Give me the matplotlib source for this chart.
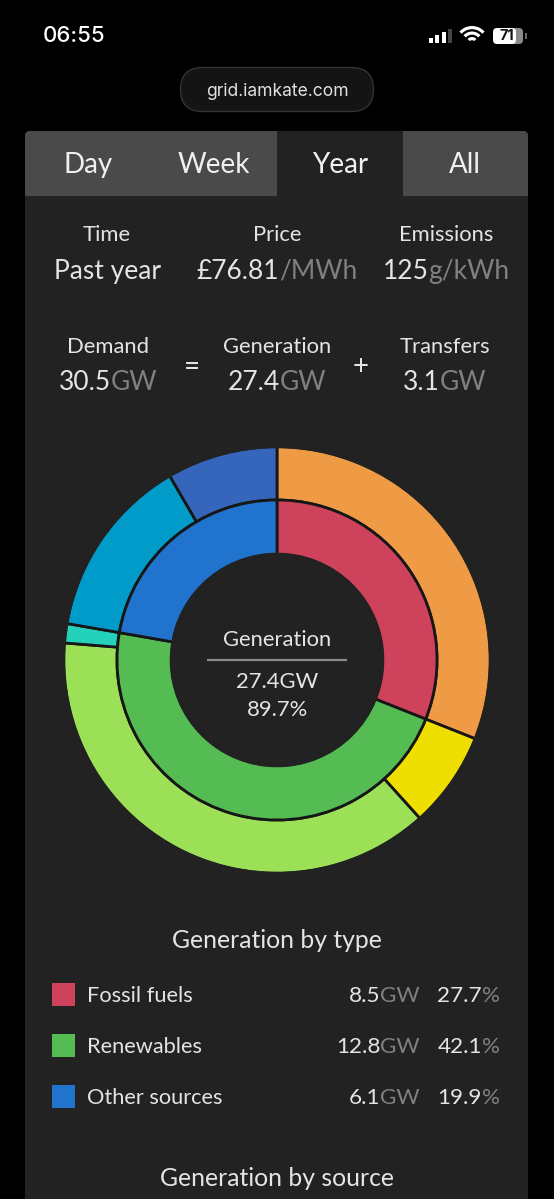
import matplotlib
matplotlib.use('Agg')
import matplotlib.pyplot as plt
from matplotlib.patches import Circle, FancyBboxPatch, Rectangle, Wedge

plt.rcParams['font.family'] = ['Lato', 'DejaVu Sans']

W, H = 554, 1199
BG = '#222222'
TAB = '#4a4a4a'
WHITE = '#e4e4e4'
GREY = '#808080'
EDGE = '#161616'

# inner ring, GW
type_names = ['Fossil fuels', 'Renewables', 'Other sources']
type_gw = [8.5, 12.8, 6.1]
type_pct = [27.7, 42.1, 19.9]
type_colors = ['#ce425b', '#54bc53', '#2074ce']

# outer ring, GW
source_gw = [8.5, 2.0, 10.4, 0.4, 3.8, 2.3]
source_colors = ['#ef9a45', '#efdf00', '#9be057', '#24d2bc', '#009bc9', '#3566bb']

tabs = ['Day', 'Week', 'Year', 'All']
top_labels = ['Time', 'Price', 'Emissions']
top_values = [('Past year', ''), ('£76.81', '/MWh'), ('125', 'g/kWh')]
mid_labels = ['Demand', 'Generation', 'Transfers']
mid_values = [('30.5', 'GW'), ('27.4', 'GW'), ('3.1', 'GW')]
signal_heights = [5, 8, 11, 14]

fig = plt.figure(figsize=(W / 100, H / 100), dpi=100, facecolor='black')
ax = fig.add_axes([0, 0, 1, 1])
ax.set_xlim(0, W)
ax.set_ylim(H, 0)
ax.axis('off')
renderer = fig.canvas.get_renderer()


def two_tone(x, y, first, second, size, align='center'):
    # white number followed by a grey unit, placed as one string
    t1 = ax.text(0, y, first, color=WHITE, fontsize=size, va='center', ha='left')
    t2 = ax.text(0, y, second, color=GREY, fontsize=size, va='center', ha='left')
    w1 = t1.get_window_extent(renderer).width
    w2 = t2.get_window_extent(renderer).width if second else 0
    left = x - (w1 + w2) / 2 if align == 'center' else x - w1 - w2
    t1.set_x(left)
    t2.set_x(left + w1)


# status bar
ax.text(43, 36, '06:55', color='white', fontsize=16, family='Inter', weight='medium',
        va='center', ha='left')
for i, h in enumerate(signal_heights):
    color = 'white' if i < 3 else '#444444'
    ax.add_patch(Rectangle((429 + i * 6.3, 43 - h), 4, h, color=color, lw=0))
for r in [17, 11.5, 6]:
    ax.add_patch(Wedge((472, 43), r, 222, 318, width=3.2, color='white', lw=0))
ax.add_patch(FancyBboxPatch((495, 28), 28, 16, boxstyle='round,pad=0,rounding_size=4',
                            fc='#8a8a8a', ec='none'))
ax.add_patch(FancyBboxPatch((493, 28), 23, 16, boxstyle='round,pad=0,rounding_size=4',
                            fc='white', ec='none'))
ax.add_patch(Rectangle((525, 33), 1.5, 6, color='#666666', lw=0))
ax.text(507, 36.5, '71', color='#111111', fontsize=10.5, family='Inter', weight='bold',
        va='center', ha='center')

# address pill
ax.add_patch(FancyBboxPatch((180.5, 67.5), 193, 44, boxstyle='round,pad=0,rounding_size=22',
                            fc='#141414', ec='#333333', lw=1))
ax.text(277, 91, 'grid.iamkate.com', color='#e0e0e0', fontsize=12.6, family='Inter',
        va='center', ha='center')

# panel and tabs
panel = FancyBboxPatch((25, 131), 503, 1200, boxstyle='round,pad=0,rounding_size=5',
                       fc=BG, ec='none')
ax.add_patch(panel)
for left, right in [(25, 277), (403, 528)]:
    tab = Rectangle((left, 131), right - left, 65, fc=TAB, ec='none')
    ax.add_patch(tab)
    tab.set_clip_path(panel)
for x, name in zip([88, 214, 340, 465], tabs):
    ax.text(x, 165, name, color='#f0f0f0', fontsize=20, va='center', ha='center')

# figures above the chart
for x, name, val in zip([107, 277, 446], top_labels, top_values):
    ax.text(x, 235, name, color=WHITE, fontsize=15.8, va='center', ha='center')
    two_tone(x, 271.5, val[0], val[1], 19)
for x, name, val in zip([108, 277, 445], mid_labels, mid_values):
    ax.text(x, 347, name, color=WHITE, fontsize=15.8, va='center', ha='center')
    two_tone(x, 383, val[0], val[1], 19)
ax.text(192, 367, '=', color=WHITE, fontsize=20, va='center', ha='center')
ax.text(361, 367, '+', color=WHITE, fontsize=20, va='center', ha='center')

# text in the hole of the donut
ax.text(277, 640, 'Generation', color=WHITE, fontsize=15.8, va='center', ha='center')
ax.plot([207, 347], [660, 660], color='#8c8c8c', lw=1.6, solid_capstyle='butt')
ax.text(277, 681.5, '27.4GW', color=WHITE, fontsize=15.8, va='center', ha='center')
ax.text(277, 709.5, '89.7%', color=WHITE, fontsize=15.8, va='center', ha='center')

# legend
ax.text(277, 940.5, 'Generation by type', color=WHITE, fontsize=17.8, va='center', ha='center')
for i, name in enumerate(type_names):
    y = 994.5 + i * 51
    ax.add_patch(Rectangle((52, y - 11.5), 23, 23, fc=type_colors[i], ec='none'))
    ax.text(87, y + 1.5, name, color=WHITE, fontsize=15.7, va='center', ha='left')
    two_tone(420, y + 1.5, f'{type_gw[i]}', 'GW', 16.2, align='right')
    two_tone(500, y + 1.5, f'{type_pct[i]}', '%', 16.2, align='right')
ax.text(277, 1178.5, 'Generation by source', color=WHITE, fontsize=17.8, va='center', ha='center')

# donut in its own axes so the pie keeps y pointing up
cx, cy, R = 277, 660, 213.4
r_mid, r_hole = 160, 105.6
pad = 1.02
donut = fig.add_axes([(cx - R * pad) / W, 1 - (cy + R * pad) / H, 2 * R * pad / W, 2 * R * pad / H])
donut.patch.set_alpha(0)
donut.pie(source_gw, colors=source_colors, startangle=90, counterclock=False, radius=1,
          wedgeprops=dict(width=(R - r_mid) / R, edgecolor=EDGE, linewidth=2))
donut.pie(type_gw, colors=type_colors, startangle=90, counterclock=False, radius=r_mid / R,
          wedgeprops=dict(width=(r_mid - r_hole) / R, edgecolor=EDGE, linewidth=2))
# only the separators are dark, so paint over the edge on the outer rim and the hole rim
donut.add_patch(Circle((0, 0), 1, fill=False, ec=BG, lw=2.4))
donut.add_patch(Circle((0, 0), r_hole / R, fill=False, ec=BG, lw=2.4))
donut.set_xlim(-pad, pad)
donut.set_ylim(-pad, pad)

fig.savefig('out.png', dpi=100, facecolor='black')
